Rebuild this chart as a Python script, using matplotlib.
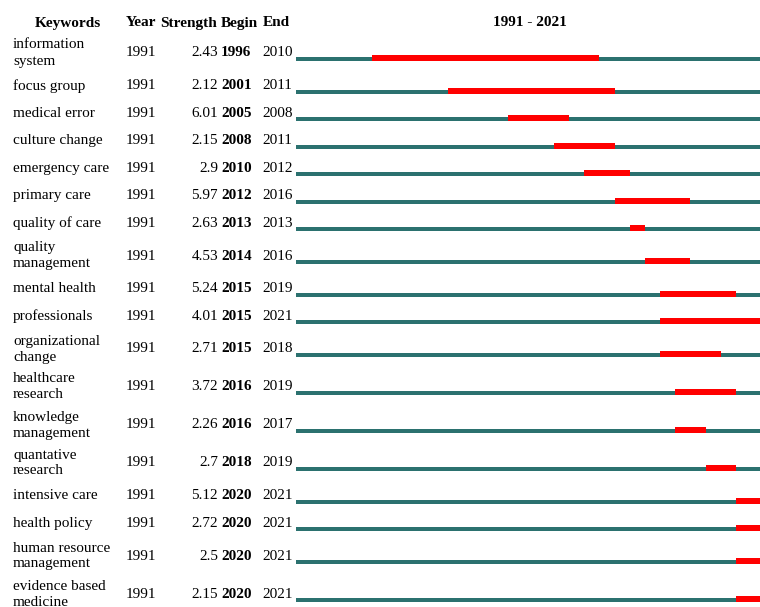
import matplotlib
matplotlib.use("Agg")
import matplotlib.pyplot as plt

plt.rcParams["font.family"] = ["Liberation Serif", "DejaVu Serif"]

keywords = [
    "information\nsystem", "focus group", "medical error", "culture change",
    "emergency care", "primary care", "quality of care", "quality\nmanagement",
    "mental health", "professionals", "organizational\nchange", "healthcare\nresearch",
    "knowledge\nmanagement", "quantative\nresearch", "intensive care", "health policy",
    "human resource\nmanagement", "evidence based\nmedicine",
]
years = [1991] * 18
strength = [2.43, 2.12, 6.01, 2.15, 2.9, 5.97, 2.63, 4.53, 5.24, 4.01, 2.71,
            3.72, 2.26, 2.7, 5.12, 2.72, 2.5, 2.15]
begin = [1996, 2001, 2005, 2008, 2010, 2012, 2013, 2014, 2015, 2015, 2015,
         2016, 2016, 2018, 2020, 2020, 2020, 2020]
end = [2010, 2011, 2008, 2011, 2012, 2016, 2013, 2016, 2019, 2021, 2018,
       2019, 2017, 2019, 2021, 2021, 2021, 2021]
start_year, end_year = 1991, 2021

W, H = 760, 607
fig = plt.figure(figsize=(W / 100, H / 100), dpi=100)

# text table axes in pixel coords
ax = fig.add_axes([0, 0, 1, 1])
ax.set_xlim(0, W)
ax.set_ylim(H, 0)
ax.axis("off")

# timeline axes: x in years, y in pixels (right end is cut off like the original)
x0 = 296
year_px = 15.17
tl = fig.add_axes([x0 / W, 0, (W - x0) / W, 1])
tl.set_xlim(start_year, start_year + (W - x0) / year_px)
tl.set_ylim(H, 0)
tl.axis("off")

fs = 11
hy = 23
ax.text(68, hy, "Keywords", ha="center", va="center", fontsize=fs, fontweight="bold")
ax.text(126, hy, "Year", ha="left", va="center", fontsize=fs, fontweight="bold")
ax.text(160, hy, "Strength", ha="left", va="center", fontsize=fs, fontweight="bold")
ax.text(221, hy, "Begin", ha="left", va="center", fontsize=fs, fontweight="bold")
ax.text(263, hy, "End", ha="left", va="center", fontsize=fs, fontweight="bold")
ax.text(530, hy, f"{start_year} - {end_year}", ha="center", va="center",
        fontsize=fs, fontweight="bold")

teal = "#2B716F"
red = "#FF0000"

top = 34
for kw, yr, s, b, e in zip(keywords, years, strength, begin, end):
    h = 38 if "\n" in kw else 27.5
    yc = top + h / 2
    top += h
    ax.text(13, yc, kw, ha="left", va="center", fontsize=fs, linespacing=1.3)
    ax.text(126, yc, str(yr), ha="left", va="center", fontsize=fs)
    ax.text(218, yc, f"{s:g}", ha="right", va="center", fontsize=fs)
    ax.text(221, yc, str(b), ha="left", va="center", fontsize=fs, fontweight="bold")
    ax.text(262, yc, str(e), ha="left", va="center", fontsize=fs)

    yl = yc + 6
    tl.barh(yl, end_year + 1 - start_year, left=start_year, height=4,
            color=teal, edgecolor="none")
    tl.barh(yl - 1, e + 1 - b, left=b, height=6, color=red, edgecolor="none")

fig.savefig("out.png", dpi=100)
